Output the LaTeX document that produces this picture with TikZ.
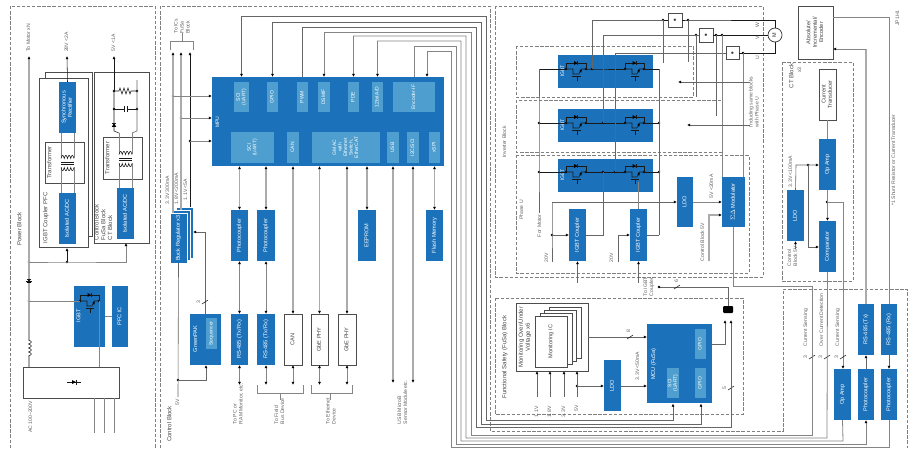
\documentclass[tikz,border=0pt]{standalone}
\usepackage{fontspec}
\setmainfont{Liberation Sans}
\usetikzlibrary{arrows.meta,calc}
\definecolor{bblue}{HTML}{1B72BA}
\definecolor{lblue}{HTML}{4E9ECF}
\newcommand\Rt[1]{\rotatebox{90}{\begin{tabular}{@{}c@{}}#1\end{tabular}}}
\newcommand\Rl[1]{\rotatebox{90}{\begin{tabular}{@{}l@{}}#1\end{tabular}}}
\newcommand\blk[7]{\node[#1,minimum width={(#5-#3)*1pt},minimum height={(#6-#4)*1pt}] (#2) at ({(#3+#5)/2},{(#4+#6)/2}) {\Rt{#7}};}
\newcommand\lab[4]{\node[lbl] (#1) at (#2,#3) {\Rt{#4}};}
\newcommand\labt[4]{\node[ttl] (#1) at (#2,#3) {\Rt{#4}};}
\newcommand\labb[4]{\node[lbl,anchor=south] (#1) at (#2,#3) {\Rl{#4}};}
\newcommand\jn[3]{\node[jdot] (#1) at (#2,#3) {};}
\newcommand\wcut[2]{\draw[wk] ({#1-3},{#2+2}) -- ({#1+3},{#2-2});}
\newcommand\igbtsym[3]{%
 \begin{scope}[shift={(#1,#2)}]
 \draw[wk] (0,0) -- (0,-6) -- (#3,-6) -- (#3,0);
 \fill (#3*.5-2,-8) -- (#3*.5-2,-4) -- (#3*.5+1.5,-6) -- cycle;
 \draw[wk] (#3*.5+1.5,-8) -- (#3*.5+1.5,-4);
 \draw[wk] (0,0) -- (7,0) -- (7,5) -- (#3-7,5) -- (#3-5,0) -- (#3,0);
 \draw[wk] (6,7) -- (#3-5,7) (#3*.5+1,7) -- (#3*.5+1,12);
 \fill (#3-6.5,1.5) -- (#3-4,.5) -- (#3-5,4) -- cycle;
 \end{scope}}
\newcommand\vdiode[2]{%
 \fill (#1-2.2,#2+1.8) -- (#1+2.2,#2+1.8) -- (#1,#2-1.8) -- cycle;
 \draw[wk] (#1-2.2,#2-1.8) -- (#1+2.2,#2-1.8);}
\newcommand\xfmr[3]{% x1, x2, y
 \draw[wk] plot[domain=0:4,samples=41] ({#1+\x*(#2-#1)/4},{#3-3.2*abs(sin(\x*180))});
 \draw[wk] plot[domain=0:4,samples=41] ({#1+\x*(#2-#1)/4},{#3+9+3.2*abs(sin(\x*180))});
 \draw[wk] (#1,#3+3.6) -- (#2,#3+3.6) (#1,#3+5.4) -- (#2,#3+5.4);}
\tikzset{
 >={Latex[length=3.2pt,width=3pt,black]},
 dbox/.style={draw=black!50,line width=.75pt,dash pattern=on 3.4pt off 1.7pt},
 bb/.style={fill=bblue,draw=none,inner sep=0pt,outer sep=0pt,text=white,font=\fontsize{5.6}{6.4}\selectfont},
 lb/.style={fill=lblue,draw=none,inner sep=0pt,outer sep=0pt,text=white,font=\fontsize{5}{5.5}\selectfont},
 wb/.style={fill=white,draw=black!70,line width=.7pt,inner sep=0pt,outer sep=0pt,text=black!75,font=\fontsize{5.6}{6.4}\selectfont},
 lbl/.style={inner sep=0pt,outer sep=0pt,text=black!62,font=\fontsize{5.1}{6}\selectfont},
 ttl/.style={inner sep=0pt,outer sep=0pt,text=black!72,font=\fontsize{6}{6.8}\selectfont},
 wg/.style={draw=black!33,line width=1.1pt},
 wd/.style={draw=black!60,line width=.6pt},
 wm/.style={draw=black!48,line width=.8pt},
 wk/.style={draw=black!90,line width=.55pt},
 jdot/.style={circle,fill=black,inner sep=0pt,minimum size=2.8pt,outer sep=0pt},
}
\begin{document}
\begin{tikzpicture}[x=1pt,y=-1pt]
\useasboundingbox (0,0) rectangle (917,450);
\fill[white] (0,0) rectangle (917,450);
% dashed regions
\draw[dbox] (10,448) -- (10,6) -- (155,6) -- (155,448);
\draw[dbox] (160,448) -- (160,6) -- (490,6) -- (490,431) -- (783,431) -- (783,289) -- (907,289) -- (907,448);
\draw[dbox] (495,6) rectangle (763,277);
\draw[dbox] (495,298) rectangle (743,414);
\draw[dbox] (516,46) rectangle (693,97);
\draw[dbox] (516,100) rectangle (722,152);
\draw[dbox] (516,155) rectangle (749,273);
\draw[dbox] (782,62) rectangle (853,281);

% ---------- power block
\draw[wb,line width=.6pt] (45,72) rectangle (92,236);
\blk{wb}{pfcBox}{39}{78}{88}{247}{}
\blk{wb}{ctlBox}{94}{72}{149}{243}{}
\blk{bb}{syncR}{59}{82}{76}{133}{Synchronous\\Rectifier}
\blk{bb}{iso1}{59}{193}{76}{244}{Isolated AC/DC}
\blk{bb}{iso2}{117}{188}{134}{239}{Isolated AC/DC}
\node[wb,minimum width=39pt,minimum height=41pt,anchor=north west] (tr1) at (45,142) {};
\node[wb,minimum width=39pt,minimum height=42pt,anchor=north west] (tr2) at (103,137) {};
\draw[wm] (61,133) -- (61,158) (74,133) -- (74,158) (61,167) -- (61,193) (74,167) -- (74,193);
\draw[wm] (119,188) -- (119,163) (132,188) -- (132,163) (119,154) -- (119,133) (132,154) -- (132,133);
\xfmr{61}{74}{158.5}
\xfmr{119}{132}{154.5}
\labt{tT1}{50}{162.5}{Transformer}
\labt{tT2}{108}{158}{Transformer}
\node[ttl,anchor=south] (tPfc) at (46,243) {\Rl{IGBT Coupler PFC}};
\node[ttl,anchor=south] (tCb) at (104,240) {\Rl{Control Block\\FuSa Block\\CT Block}};
\labt{tPow}{20}{229}{Power Block}
\lab{tMot}{29}{38}{To Motor xN}
\lab{t28}{67}{42}{28V <2A}
\lab{t5}{114}{43}{5V <1A}
\lab{tAc}{31}{417}{AC 100\textasciitilde200V}
\coordinate (cMot) at (29,56);
\coordinate (c28) at (67,56);
\coordinate (c5) at (114,56);
\node[wb,minimum width=96pt,minimum height=31pt,anchor=north west] (acBox) at (23,367) {};
\blk{bb}{igbtP}{74}{286}{105}{347}{}
\node[anchor=west,text=white,font=\fontsize{5.6}{6}\selectfont,inner sep=0pt] (tIgP) at (76,316) {\Rt{IGBT}};
\blk{bb}{pfcIC}{112}{286}{128}{347}{PFC IC}
\jn{b1}{29}{262}\jn{b2}{67}{262}\jn{b3}{29}{301}\jn{b4}{80}{301}\jn{b5}{99}{301}
\jn{r1}{114}{91}\jn{r2}{137}{91}\jn{r3}{114}{109}\jn{r4}{137}{109}
\draw[->,wg] (b1.center) -- (cMot);
\draw[wg] (b1.center) -- (b3.center) -- (29,340);
\draw[wg] (29,356) -- (29,367);
\draw[wk] plot[domain=0:4,samples=41] ({29-.5+2.8*abs(sin(\x*180))},{340+\x*4});
\fill[white] (27,279) rectangle (31,283);
\vdiode{29}{281}
\draw[wk] (26,281) -- (32,281);
\draw[->,wm] (b1.center) -- (b2.center) -- (126,262) -- (ctlBox.south -| 126,0);
\draw[->,wk] (b2.center) -- (67,248);
\draw[->,wk] (syncR.north) -- (c28);
\draw[->,wk] (r1.center) -- (c5);
\draw[wk] (r1.center) -- (r3.center) -- (114,127) -- (114,131) -- (119,133);
\draw[wd] (r2.center) -- (137,80) (r2.center) -- (r4.center) -- (137,131) -- (132,133);
\vdiode{114}{125}
\draw[wk] (r1.center) -- (119,91) -- (120,88) -- (122,94) -- (124,88) -- (126,94) -- (128,88) -- (130,94) -- (131,91) -- (r2.center);
\draw[wk] (r3.center) -- (124,109) (124,106) -- (124,112) (127,106) -- (127,112) (127,109) -- (r4.center);
\draw[wm] (b3.center) -- (b4.center);
\igbtsym{80}{301}{19}
\draw[wm] (b5.center) -- (99,367);
\draw[wm] (igbtP.east) -- (pfcIC.west);
\draw[wk] (67,382) -- (81,382);
\fill (72,380) -- (72,384) -- (76,382) -- cycle;
\draw[wk] (76,379.5) -- (76,384.5);
\draw[wm] (94,398) -- (94,433) (104,398) -- (104,433) (114,398) -- (114,433);

% ---------- control block
\blk{bb}{mpu}{212}{77}{444}{166}{}
\node[lbl,text=white] (tMpu) at (218,122) {\Rt{MPU}};
\blk{lb}{sciT}{234}{82}{249}{112}{SCI\\(UART)}
\blk{lb}{gpioT}{267}{82}{278}{112}{GPIO}
\blk{lb}{pwmT}{297}{82}{308}{112}{PWM}
\blk{lb}{dsmT}{318}{82}{330}{112}{DSMIF}
\blk{lb}{pdeT}{348}{82}{359}{112}{PDE}
\blk{lb}{adT}{372}{82}{383}{112}{12bit A/D}
\blk{lb}{encT}{393}{82}{435}{112}{Encoder-IF}
\blk{lb}{sciB}{231}{132}{274}{163}{SCI\\(UART)}
\blk{lb}{canB}{287}{132}{299}{163}{CAN}
\blk{lb}{gmacB}{312}{132}{380}{163}{GMAC\\with\\Ethernet\\Switch,\\EtherCAT}
\blk{lb}{usbB}{387}{132}{399}{163}{USB}
\blk{lb}{i2cB}{407}{132}{419}{163}{I2C/SCI}
\blk{lb}{spiB}{429}{132}{440}{163}{xSPI}
% buck stack
\blk{bb}{bk3}{176}{207}{193}{258}{}
\draw[white,line width=.4pt] (bk3.north west) rectangle (bk3.south east);
\blk{bb}{bk2}{173}{210}{190}{260.5}{}
\draw[white,line width=.4pt] (bk2.north west) rectangle (bk2.south east);
\blk{bb}{buck}{170}{213}{187}{263}{Buck Regulator x3}
\draw[white,line width=.4pt] (buck.north west) rectangle (buck.south east);
\blk{bb}{ph1}{231}{210}{248}{261}{Photocoupler}
\blk{bb}{ph2}{257}{210}{275}{261}{Photocoupler}
\blk{bb}{eep}{358}{210}{376}{261}{EEPROM}
\blk{bb}{flash}{426}{210}{443}{261}{Flash Memory}
\blk{bb}{gpak}{190}{314}{221}{365}{}
\node[lbl,text=white,font=\fontsize{5.6}{6}\selectfont] (tGp) at (196,339) {\Rt{GreenPAK}};
\blk{lb}{seq}{206}{318}{217}{349}{Sequencer}
\blk{bb}{rs1}{231}{314}{248}{365}{RS-485 (Tx/Rx)}
\blk{bb}{rs2}{257}{314}{275}{365}{RS-485 (Tx/Rx)}
\blk{wb}{can}{284}{314}{302}{365}{CAN}
\blk{wb}{phy1}{311}{314}{328}{365}{GbE PHY}
\blk{wb}{phy2}{338}{314}{356}{365}{GbE PHY}
\jn{v1}{173}{96}\jn{v2}{181}{118}\jn{v3}{190}{141}\jn{v5}{178}{380}
\coordinate (t1) at (173,52);\coordinate (t2) at (181,52);\coordinate (t3) at (190,52);
\draw[->,wg] (v1.center) -- (t1);\draw[wg] (v1.center) -- (173,213);
\draw[->,wg] (v2.center) -- (t2);\draw[wg] (v2.center) -- (181,210);
\draw[->,wk] (v3.center) -- (t3);\draw[wk] (v3.center) -- (190,207);
\draw[->,wm] (v1.center) -- (v1.center -| mpu.west);
\draw[->,wm] (v2.center) -- (v2.center -| mpu.west);
\draw[->,wm] (v3.center) -- (v3.center -| mpu.west);
\draw[wm] (170,50) -- (170,41) -- (193,41) -- (193,50) (182,41) -- (182,33);
\labb{tIc}{182.5}{33.5}{To ICs\\FuSa\\Block}
\labb{v33}{168}{204}{3.3V 300mA}
\labb{v18}{177}{204}{1.8V <200mA}
\labb{v11}{186}{200}{1.1V <5A}
\draw[wd] (buck.south) -- (178,397);
\draw[->,wd] (v5.center) -- (206,380) -- (206,0 |- gpak.south);
\draw[->,wd] (gpak.north -| 205,0) -- (205,232) -- (193,232);
\wcut{205}{302}
\lab{n3a}{199}{302}{3}
\lab{t5v}{178}{402}{5V}
\labt{tCtl}{170}{424}{Control Block}
\draw[<->,wg] (ph1.north) -- (ph1.north |- mpu.south);
\draw[<->,wg] (ph2.north) -- (ph2.north |- mpu.south);
\draw[<->,wm] (ph1.south) -- (rs1.north);
\draw[<->,wm] (ph2.south) -- (rs2.north);
\coordinate (e1) at (239.5,385);\coordinate (e2) at (266,385);\coordinate (e3) at (293,385);\coordinate (e4) at (319.5,385);\coordinate (e5) at (347,385);
\draw[<->,wm] (rs1.south) -- (e1);
\draw[<->,wm] (rs2.south) -- (e2);
\draw[<->,wm] (can.south) -- (e3);
\draw[<->,wm] (phy1.south) -- (e4);
\draw[<->,wm] (phy2.south) -- (e5);
\draw[<->,wg] (can.north) -- (can.north |- mpu.south);
\draw[<->,wg] (phy1.north) -- (phy1.north |- mpu.south);
\draw[<->,wg] (phy2.north) -- (phy2.north |- mpu.south);
\draw[<->,wg] (eep.north) -- (eep.north |- mpu.south);
\draw[<->,wg] (flash.north) -- (flash.north |- mpu.south);
\coordinate (u1) at (393,383);\coordinate (u2) at (413,383);
\draw[<->,wg] (u1 |- mpu.south) -- (u1);
\draw[<->,wg] (u2 |- mpu.south) -- (u2);
\draw[wm] (257,385) -- (257,393) -- (303,393) -- (303,385) (280,393) -- (280,400);
\draw[wm] (311,385) -- (311,393) -- (352,393) -- (352,385) (330,393) -- (330,400);
\labb{tPc}{238.5}{424}{To PC or\\RAM Monitor, etc.}
\labb{tFb}{280}{424}{To Field\\Bus Device}
\labb{tEt}{331.5}{424}{To Ethernet\\Device}
\labb{tUsb}{403}{424}{USB MicroB\\Sensor Module etc.}

% ---------- inverter
\foreach \nm/\ya/\yb in {igA/55/88,igB/109/142,igC/159/192}{\blk{bb}{\nm}{558}{\ya}{653}{\yb}{}}
\lab{tI1}{563}{71}{\textcolor{white}{IGBT}}
\lab{tI2}{563}{125}{\textcolor{white}{IGBT}}
\lab{tI3}{563}{175}{\textcolor{white}{IGBT}}
\blk{bb}{cp1}{569}{209}{586}{261}{IGBT Coupler}
\blk{bb}{cp2}{630}{209}{647}{261}{IGBT Coupler}
\blk{bb}{ldoI}{677}{177}{693}{227}{LDO}
\blk{bb}{sdm}{722}{177}{745}{227}{$\Sigma\Delta$ Modulator}
\node[wb,minimum width=14pt,minimum height=14pt] (sw) at (675,20) {\tiny$\bullet$};
\node[wb,minimum width=14pt,minimum height=14pt] (sv) at (706,35) {\tiny$\bullet$};
\node[wb,minimum width=13pt,minimum height=13pt] (su) at (732.5,53) {\tiny$\bullet$};
\node[circle,draw=black!80,line width=.7pt,fill=white,minimum size=14pt,inner sep=0pt,text=black!80,font=\fontsize{5.5}{6}\selectfont] (mot) at (775,35) {\Rt{M}};
\jn{a1}{566}{69}\jn{a2}{586}{69}\jn{a3}{592}{69}\jn{a4}{625}{69}\jn{a5}{644}{69}
\jn{c1}{539}{123}\jn{c2}{566}{123}\jn{c3}{586}{123}\jn{c4}{603}{123}\jn{c5}{625}{123}\jn{c6}{644}{123}\jn{c7}{659}{123}
\jn{f1}{539}{172}\jn{f2}{566}{172}\jn{f3}{586}{172}\jn{f4}{603}{172}\jn{f5}{615}{172}\jn{f6}{625}{172}\jn{f7}{644}{172}\jn{f8}{659}{172}
\jn{m1}{663}{20}\jn{m2}{688}{20}\jn{m3}{696}{35}\jn{m4}{716}{35}\jn{m5}{722}{35}\jn{m6}{743}{53}
\igbtsym{566}{69}{20}\igbtsym{625}{69}{19}
\igbtsym{566}{123}{20}\igbtsym{625}{123}{19}
\igbtsym{566}{172}{20}\igbtsym{625}{172}{19}
\draw[wk] (539,69) -- (a1.center) (a2.center) -- (a3.center) -- (a4.center) (a5.center) -- (659,69);
\draw[wk] (c1.center) -- (c2.center) (c3.center) -- (c5.center) (c6.center) -- (c7.center);
\draw[wk] (f1.center) -- (f2.center) (f3.center) -- (f6.center) (f7.center) -- (f8.center);
\draw[wd] (539,69) -- (c1.center) -- (f1.center) -- (539,213);
\draw[wd] (659,69) -- (c7.center) -- (f8.center) -- (659,235);
\draw[wd] (a3.center) -- (592,20) -- (m1.center);
\draw[wk] (m1.center) -- (sw.west);
\draw[wd] (m1.center) -- (663,63);
\draw[wd] (c4.center) -- (603,35) -- (sv.west);
\draw[wd] (f5.center) -- (615,53) -- (su.west);
\draw[wk] (sw.east) -- (m2.center) -- (775,20) -- (mot.north);
\draw[wd] (m2.center) -- (688,62);
\draw[wk] (sv.east) -- (mot.west);
\draw[wd] (m3.center) -- (696,97);
\draw[wd] (m4.center) -- (716,116);
\draw[wm] (m5.center) -- (m5.center |- sdm.north);
\draw[wk] (su.east) -- (775,53) -- (mot.south);
\draw[wm] (m6.center) -- (m6.center |- sdm.north);
\coordinate (i1) at (750,82);\coordinate (i2) at (750,125);
\draw[->,wd] (i1) -- (678,82);
\draw[->,wd] (i2) -- (687,125);
\labb{tInc}{754.5}{127}{Including same blocks\\with Phase U}
\lab{tUU}{758}{58}{U}\lab{tVV}{758}{38}{V}\lab{tWW}{758}{25}{W}
% couplers
\jn{g1}{552}{235}
\draw[->,wd] (552,202) -- (ldoI.west);
\draw[wd] (552,202) -- (g1.center) -- (552,262);
\draw[->,wd] (g1.center) -- (g1.center -| cp1.west);
\draw[wd] (f4.center) -- (603,235) -- (603,235 -| cp1.east);
\draw[->,wd] (618,262) -- (618,235) -- (618,235 -| cp2.west);
\draw[wd] (659,235) -- (659,235 -| cp2.east);
\draw[wm] (cp2.north) -- (638.5,182);
\coordinate (k1) at (577.5,283);\coordinate (k2) at (638.5,283);
\draw[->,wd] (k1) -- (cp1.south);
\draw[->,wd] (k2) -- (cp2.south);
\draw[->,wm] (ldoI.east) -- (sdm.west |- ldoI.east);
\draw[->,wg] (709,261) -- (709,215) -- (722,215);
\labb{tCb5}{703}{261}{Control Block 5V}
\labb{t5m}{712}{198.5}{5V <20mA}
\labb{t20a}{547}{262}{20V}
\labb{t20b}{612}{262}{20V}
\labb{tFm}{540}{237}{For Motor}
\lab{tPU}{522}{210}{Phase U}
\lab{tIB}{505}{142}{Inverter Block}
\labb{tTo}{649}{296}{To IGBT\\Coupler}

% ---------- FuSa
\labt{tFs}{505}{357}{Functional Safety (FuSa) Block}
\blk{wb}{mon}{516}{303}{588}{371}{}
\labt{tMo}{525}{337}{Monitoring Over/Under\\Voltage x6}
\blk{wb}{cd4}{549}{307}{581}{358}{}
\blk{wb}{cd3}{544.5}{310}{576.5}{361}{}
\blk{wb}{cd2}{540}{313}{572}{364}{}
\blk{wb}{cd1}{535}{316}{567}{367}{Monitoring IC}
\blk{bb}{ldoF}{604}{360}{621}{411}{LDO}
\blk{bb}{mcu}{647}{324}{712}{403}{}
\node[lbl,text=white,font=\fontsize{5.6}{6}\selectfont] (tMcu) at (654,364) {\Rt{MCU (FuSa)}};
\blk{lb}{fsci}{667}{368}{679}{398}{SCI\\(UART)}
\blk{lb}{fgp1}{695}{368}{706}{398}{GPIO}
\blk{lb}{fgp2}{695}{329}{706}{359}{GPIO}
\node[fill=black,rounded corners=1pt,minimum width=10pt,minimum height=7pt,inner sep=0pt] (buf) at (728,309.5) {};
\jn{q1}{577}{386}
\coordinate (w1) at (537,397);\coordinate (w2) at (550,397);\coordinate (w3) at (564,397);\coordinate (w4) at (577,397);
\draw[->,wd] (w1) -- (w1 |- mon.south);
\draw[->,wd] (w2) -- (w2 |- mon.south);
\draw[->,wd] (w3) -- (w3 |- mon.south);
\draw[->,wd] (w4) -- (w4 |- mon.south);
\labb{v1a}{537}{417}{1.1V}\labb{v1b}{550}{417}{1.8V}\labb{v1c}{564}{417}{3.3V}\labb{v1d}{577}{411}{5V}
\draw[->,wd] (q1.center) -- (q1.center -| ldoF.west);
\draw[->,wd] (ldoF.east |- q1) -- (mcu.west |- q1);
\draw[->,wd] (mon.east |- 0,337) -- (mcu.west |- 0,337);
\wcut{630}{337}
\lab{n8}{629}{331}{8}
\labb{t33f}{638}{380}{3.3V <50mA}
\coordinate (cb1) at (725,320);\coordinate (cb2) at (731,320);
\draw[->,wd] (fgp2.east -| mcu.east) -- (725,344) -- (cb1);
\draw[wd] (buf.north) -- (728,287) -- (659,287);
\jn{jc}{659}{287}
\wcut{677}{287}
\lab{n6}{677}{281}{6}
\wcut{731}{388}
\lab{n5}{725}{388}{5}

% ---------- encoder + CT
\blk{wb}{enc}{798}{6}{833}{59}{Absolute/\\Incremental/\\Encoder}
\blk{wb}{ctr}{819}{69}{836}{120}{Current\\Transducer}
\blk{bb}{opC}{819}{139}{836}{190}{Op Amp}
\blk{bb}{cmp}{819}{221}{836}{272}{Comparator}
\blk{bb}{ldoC}{787}{190}{804}{241}{LDO}
\blk{bb}{op2}{834}{369}{851}{420}{Op Amp}
\blk{bb}{pcT}{858}{369}{874}{420}{Photocoupler}
\blk{bb}{pcR}{881}{369}{897}{420}{Photocoupler}
\blk{bb}{rsT}{858}{304}{874}{355}{RS-485 (Tx)}
\blk{bb}{rsR}{881}{304}{897}{355}{RS-485 (Rx)}
\jn{h1}{808}{165}\jn{h2}{827}{202}
\draw[wm] (ctr.south) -- (opC.north);
\draw[->,wm] (opC.south) -- (cmp.north);
\draw[->,wm] (h2.center) -- (843,202) -- (843,0 |- op2.north);
\draw[->,wd] (ldoC.north) -- (796,165) -- (819,165);
\draw[->,wd] (h1.center) -- (808,247) -- (819,247);
\coordinate (cb5) at (795.5,249);
\draw[->,wd] (cb5) -- (ldoC.south);
\labb{tCB5c}{793}{266}{Control\\Block 5V}
\labb{t33c}{791}{187}{3.3V <100mA}
\labt{tCT}{792}{76}{CT Block}
\lab{tX3}{800}{70}{x3}
\lab{tJP}{898}{18}{JP1H1}
\lab{tSh}{894}{160}{*1 Shunt Resistor or Current Transducer}
\draw[wm] (enc.east |- 0,17) -- (889,17) -- (rsR.north);
\draw[wg] (rsT.north) -- (866,49);
\draw[->,wm] (866,49) -- (enc.east |- 0,49);
\draw[->,wd] (pcT.north) -- (rsT.south);
\draw[->,wd] (rsR.south) -- (pcR.north);
\labb{tS1}{806}{346}{Current Sensing}
\labb{tS2}{822}{346}{Over Current Detection}
\labb{tS3}{838}{346}{Current Sensing}
\wcut{812}{357}\wcut{827}{357}\wcut{843}{357}
\lab{n3b}{806}{357}{3}\lab{n3c}{821}{357}{3}\lab{n3d}{837}{357}{3}

% ---------- long wires between MPU and right side
\draw[<->,wd] (sciT.center |- mpu.north) -- (sciT.center |- 0,16) -- (486,16) -- (486,420) -- (673,420) -- (673,403.5);
\draw[<->,wd] (gpioT.center |- mpu.north) -- (gpioT.center |- 0,22) -- (481,22) -- (481,424) -- (701,424) -- (701,403.5);
\draw[->,wd] (pwmT.center |- mpu.north) -- (pwmT.center |- 0,27) -- (476,27) -- (476,427) -- (731,427) -- (cb2);
\draw[<-,wm] (dsmT.center |- mpu.north) -- (dsmT.center |- 0,32) -- (471,32) -- (471,435) -- (812,435) -- (812,286) -- (733,286) -- (733,0 |- sdm.south);
\draw[<-,wm] (pdeT.center |- mpu.north) -- (pdeT.center |- 0,36) -- (466,36) -- (466,438) -- (827,438) -- (cmp.south);
\draw[<-,wm] (adT.center |- mpu.north) -- (adT.center |- 0,41) -- (461,41) -- (461,441) -- (843,441) -- (op2.south);
\draw[->,wm] (encT.center |- mpu.north) -- (encT.center |- 0,46) -- (456,46) -- (456,444) -- (866,444) -- (pcT.south);
\draw[<-,wm] (427,77) -- (427,51) -- (451,51) -- (451,447) -- (889,447) -- (pcR.south);
\end{tikzpicture}
\end{document}
